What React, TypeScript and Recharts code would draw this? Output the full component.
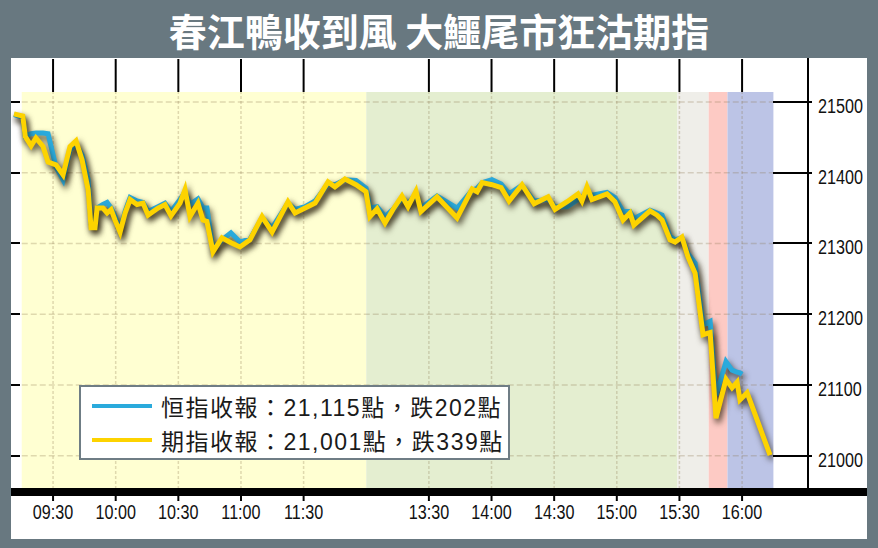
import React from 'react'
import { LineChart, Line, XAxis, YAxis, ReferenceArea, ReferenceLine } from 'recharts'

// trading minutes counted from 09:15, lunch break removed (12:00 == 13:00 == 165)
const minutes = [
  -3.7, 0.5, 1.7, 4.5, 6.8, 10.2, 12.6, 16.4, 19.8, 23.1, 26, 28.9, 31.8, 33.2, 35.1, 36.1, 38.9, 40.9,
  42.8, 44.7, 47.1, 49.5, 51.9, 55.2, 58.1, 60.5, 65.3, 68.6, 71.5, 75.8, 78.2, 80.6, 84.4, 86.8, 88.7,
  91.6, 95.9, 100.2, 104.5, 109.3, 115.1, 119.9, 127.5, 130.9, 135.7, 140.5, 146.7, 150, 154.8, 160.1,
  164.9, 166.8, 170.2, 174, 177.8, 182.1, 185, 188.8, 191.2, 198.9, 208.5, 215.7, 218.1, 220.5, 225.2,
  229.6, 233.4, 239.6, 245.4, 252.1, 255.4, 261.2, 266.4, 268.3, 270.7, 273.1, 280.3, 284.1, 288, 291.3,
  293.2, 300.9, 304.3, 306.7, 310.5, 312.9, 316.2, 319.1, 322.5, 326.3, 329.7, 332.5, 337.3, 340.2, 342.6,
  344, 345, 347.4, 358.4,
]

const hsiValues = [
  21482, 21478, 21452, 21455, 21456, 21456, 21455, 21408, 21390, 21432, 21440, 21425, 21390, 21328, 21325,
  21350, 21355, 21358, 21350, 21338, 21318, 21345, 21365, 21360, 21358, 21345, 21352, 21357, 21345, 21362,
  21372, 21355, 21363, 21350, 21350, 21292, 21305, 21315, 21302, 21306, 21336, 21322, 21357, 21348, 21352,
  21360, 21384, 21383, 21390, 21389, 21378, 21350, 21352, 21338, 21348, 21364, 21356, 21370, 21350, 21367,
  21350, 21375, 21378, 21386, 21390, 21384, 21370, 21382, 21360, 21362, 21352, 21352, 21362, 21365, 21372,
  21368, 21372, 21365, 21345, 21345, 21335, 21347, 21343, 21340, 21310, 21305, 21308, 21286, 21272, 21185,
  21190, 21085, 21133, 21121, 21118, 21117, 21115, null, null,
]

const futValues = [
  21483, 21480, 21451, 21438, 21449, 21437, 21415, 21411, 21397, 21437, 21445, 21418, 21376, 21322, 21322,
  21350, 21350, 21343, 21348, 21333, 21316, 21343, 21362, 21355, 21357, 21340, 21350, 21355, 21339, 21357,
  21376, 21338, 21357, 21333, 21331, 21288, 21308, 21301, 21295, 21305, 21338, 21316, 21359, 21343, 21350,
  21357, 21387, 21380, 21391, 21383, 21373, 21338, 21349, 21329, 21348, 21367, 21352, 21374, 21345, 21366,
  21336, 21377, 21373, 21386, 21383, 21379, 21360, 21383, 21356, 21366, 21348, 21359, 21370, 21360, 21380,
  21362, 21370, 21359, 21333, 21343, 21326, 21346, 21340, 21333, 21305, 21302, 21309, 21281, 21258, 21171,
  21174, 21053, 21108, 21096, 21104, 21079, 21082, 21089, 21001,
]

const tickMinutes = [15, 45, 75, 105, 135, 195, 225, 255, 285, 315, 345]
const tickLabels = ['09:30', '10:00', '10:30', '11:00', '11:30', '13:30', '14:00', '14:30', '15:00', '15:30', '16:00']
const yTicks = [21000, 21100, 21200, 21300, 21400, 21500]

const bandStarts = [0, 165, 314, 329, 338]
const bandEnds = [165, 314, 329, 338, 360]
const bandColors = ['#ffffd2', '#e4eed0', '#efeee9', '#fdcac4', '#bcc4e6']

const seriesNames = ['恒指收報', '期指收報']
const seriesClose = ['21,115', '21,001']
const seriesDrop = ['202', '339']
const seriesColors = ['#2aaadc', '#fdd300']

const data = minutes.map((m, i) => ({ m, hsi: hsiValues[i], fut: futValues[i] }))

const sans = "'Liberation Sans', Arial, sans-serif"
const Y_DOMAIN = [20953, 21514]
const X_DOMAIN = [-5, 360]
const GRID = 'rgba(140,120,80,0.28)'

// plot box in page pixels (margins + axis sizes below)
const PLOT_TOP = 92
const PLOT_HEIGHT = 397
const PLOT_RIGHT = 773.4
const valueToY = (v: number) => PLOT_TOP + ((Y_DOMAIN[1] - v) / (Y_DOMAIN[1] - Y_DOMAIN[0])) * PLOT_HEIGHT

// narrow digits, like the Arial Narrow of the original
const BottomTick = (props: any) => {
  const { x, y, payload } = props
  return (
    <g transform={`translate(${x},${y})`}>
      <text transform="scale(0.77,1)" y={15} textAnchor="middle" fill="#111" fontSize={21} fontFamily={sans}>
        {tickLabels[tickMinutes.indexOf(payload.value)]}
      </text>
    </g>
  )
}

const RightTick = (props: any) => {
  const { x, y, payload } = props
  return (
    <g transform={`translate(${x},${y})`}>
      <text transform="translate(44.6,0) scale(0.77,1)" y={11} fill="#111" fontSize={21} fontFamily={sans}>
        {payload.value}
      </text>
    </g>
  )
}

const NoTick = () => <g />

export default function App() {
  return (
    <div style={{ position: 'absolute', left: 0, top: 0, width: 878, height: 548, background: '#687880', overflow: 'hidden' }}>
      <style>{`.hk-chart .recharts-line-curve { filter: drop-shadow(2px 4px 3px rgba(30,20,0,0.75)); }`}</style>
      <div
        style={{
          position: 'absolute', left: 0, top: 7, width: 878, lineHeight: '46px', textAlign: 'center',
          color: '#fff', fontSize: 38, fontWeight: 700, fontFamily: "'Noto Sans CJK TC', sans-serif",
        }}
      >
        春江鴨收到風 大鱷尾市狂沽期指
      </div>
      <div style={{ position: 'absolute', left: 11, top: 58, width: 856, height: 481, background: '#fff' }} />
      <div className="hk-chart" style={{ position: 'absolute', left: 0, top: 0 }}>
        <LineChart width={878} height={548} data={data} margin={{ top: 59, right: 0, bottom: 0, left: 11.3 }}>
          {bandStarts.map((s, i) => (
            <ReferenceArea key={s} x1={s} x2={bandEnds[i]} fill={bandColors[i]} fillOpacity={1} stroke="none" />
          ))}
          {tickMinutes.map((t) => (
            <ReferenceLine key={`v${t}`} x={t} stroke={GRID} strokeWidth={1.5} strokeDasharray="3 2" />
          ))}
          {yTicks.map((v) => (
            <ReferenceLine
              key={`h${v}`}
              segment={[{ x: 0, y: v }, { x: 360, y: v }]}
              stroke={GRID}
              strokeWidth={1.5}
              strokeDasharray="6 3"
            />
          ))}
          <XAxis
            dataKey="m" type="number" domain={X_DOMAIN} allowDataOverflow ticks={tickMinutes} interval={0}
            height={59} tickSize={12} tickMargin={3} axisLine={false}
            tickLine={{ stroke: '#000', strokeWidth: 2 }} tick={<BottomTick />}
          />
          <XAxis
            xAxisId="top" orientation="top" dataKey="m" type="number" domain={X_DOMAIN} allowDataOverflow
            ticks={tickMinutes} interval={0} height={33} tickSize={33} tick={<NoTick />} axisLine={false}
            tickLine={{ stroke: '#000', strokeWidth: 2 }}
          />
          <YAxis
            orientation="right" width={104.6} domain={Y_DOMAIN} allowDataOverflow ticks={yTicks} interval={0}
            tickSize={0} tickMargin={0} tickLine={false} axisLine={false} tick={<RightTick />}
          />
          <Line
            dataKey="hsi" type="linear" stroke={seriesColors[0]} strokeWidth={5} dot={false}
            isAnimationActive={false} connectNulls={false}
          />
          <Line
            dataKey="fut" type="linear" stroke={seriesColors[1]} strokeWidth={5} dot={false}
            isAnimationActive={false}
          />
        </LineChart>
      </div>
      {/* axis rules and value tick marks laid over the chart */}
      <div style={{ position: 'absolute', left: 11, top: 488, width: 856, height: 8, background: '#000' }} />
      <div style={{ position: 'absolute', left: 807, top: 58, width: 2, height: 431, background: '#000' }} />
      {yTicks.map((v) => (
        <React.Fragment key={`t${v}`}>
          <div
            style={{
              position: 'absolute', left: PLOT_RIGHT, top: Math.round(valueToY(v)) - 1, width: 38.6, height: 2,
              background: '#000',
            }}
          />
          <div
            style={{ position: 'absolute', left: 11, top: Math.round(valueToY(v)) - 1, width: 9, height: 2, background: '#000' }}
          />
        </React.Fragment>
      ))}
      <div
        style={{
          position: 'absolute', left: 79, top: 385, width: 431, height: 75, boxSizing: 'border-box',
          border: '2px solid #6f7d85', background: '#fff',
        }}
      >
        {seriesNames.map((n, i) => (
          <div
            key={n}
            style={{ position: 'absolute', left: 11, top: 4 + i * 34, height: 30, display: 'flex', alignItems: 'center' }}
          >
            <span style={{ display: 'inline-block', width: 60, height: 4, background: seriesColors[i], marginRight: 9 }} />
            <span
              style={{
                fontSize: 23, color: '#1a1a1a', letterSpacing: 1.5, whiteSpace: 'nowrap',
                fontFamily: "'Liberation Sans', 'Noto Sans CJK TC', sans-serif",
              }}
            >
              {`${n}：${seriesClose[i]}點，跌${seriesDrop[i]}點`}
            </span>
          </div>
        ))}
      </div>
    </div>
  )
}
